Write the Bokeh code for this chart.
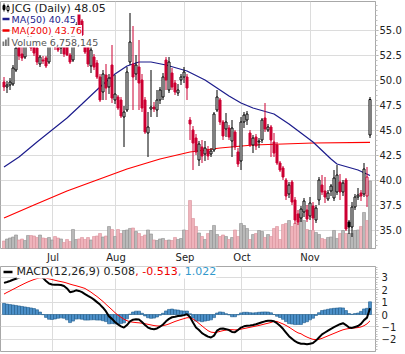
from bokeh.plotting import figure
from bokeh.models import Range1d, FixedTicker, Label, ColumnDataSource, NumeralTickFormatter
from bokeh.layouts import column
from bokeh.embed import file_html
from bokeh.resources import INLINE

# ------------------------------------------------------------------ data
symbol = "JCG"
opens = [49.8, 49.3, 49.5, 49.6, 51.0, 53.4, 52.6, 52.3, 53.6, 54.0,
         53.5, 53.2, 51.6, 52.0, 52.2, 51.8, 54.2, 53.9, 53.5, 53.2,
         53.6, 53.4, 52.5, 52.0, 54.8, 56.6, 55.9, 53.5, 53.3, 51.4,
         52.3, 51.7, 50.3, 48.8, 50.5, 49.3, 51.5, 48.0, 48.3, 48.0,
         46.3, 47.0, 51.8, 51.6, 50.6, 51.3, 50.0, 48.0, 44.7, 47.1,
         47.3, 47.0, 48.0, 48.3, 52.0, 49.0, 50.7, 49.7, 48.7, 50.0,
         50.3, 50.3, 46.0, 45.0, 44.2, 42.0, 43.3, 42.6, 43.0, 42.6,
         43.0, 47.0, 48.0, 45.8, 45.1, 45.2, 43.9, 44.8, 42.8, 41.9,
         45.8, 46.0, 44.7, 43.5, 44.3, 43.8, 44.0, 46.2, 45.0, 45.3,
         43.8, 43.5, 41.7, 41.2, 40.0, 38.6, 39.8, 38.0, 36.6, 36.2,
         36.8, 37.0, 36.4, 37.4, 36.0, 38.0, 39.5, 38.9, 38.1, 38.9,
         38.2, 38.8, 39.8, 38.8, 40.0, 35.8, 35.3, 37.3, 38.3, 38.7,
         38.6, 38.4, 44.5]
highs = [50.3, 49.9, 50.2, 51.5, 53.6, 53.9, 53.4, 54.1, 55.8, 54.4,
         53.7, 53.4, 52.5, 52.4, 52.4, 53.9, 54.4, 54.3, 53.9, 53.6,
         53.8, 53.6, 52.7, 55.0, 55.8, 56.8, 56.1, 53.7, 53.5, 53.8,
         52.6, 52.0, 50.6, 51.0, 51.6, 50.6, 53.5, 50.5, 48.5, 48.3,
         47.4, 51.3, 56.7, 55.4, 52.5, 54.0, 50.6, 48.3, 46.8, 51.0,
         47.8, 49.0, 49.3, 50.7, 52.3, 52.3, 51.2, 50.0, 49.6, 50.6,
         51.3, 50.6, 46.3, 45.4, 44.6, 43.9, 44.0, 43.9, 43.4, 43.2,
         46.8, 49.0, 48.2, 46.0, 46.7, 45.5, 46.0, 45.0, 43.2, 46.3,
         46.8, 46.9, 45.0, 44.5, 44.6, 44.2, 46.2, 47.7, 45.6, 45.5,
         44.7, 43.8, 41.9, 41.4, 40.2, 39.8, 40.0, 38.3, 37.0, 37.4,
         38.2, 37.5, 38.3, 37.8, 37.5, 40.3, 40.5, 40.3, 39.0, 39.6,
         41.0, 41.5, 40.6, 40.0, 40.2, 36.0, 37.8, 38.6, 39.2, 39.0,
         41.7, 41.3, 48.3]
lows = [48.9, 48.7, 49.0, 49.4, 50.8, 52.0, 51.9, 52.1, 53.4, 52.9,
        52.4, 51.5, 51.3, 51.6, 51.2, 51.6, 53.4, 53.0, 52.8, 52.6,
        52.3, 52.4, 51.6, 51.8, 54.5, 55.0, 54.4, 52.6, 51.3, 50.7,
        51.0, 50.1, 47.8, 48.0, 48.0, 48.6, 47.7, 47.6, 47.0, 46.2,
        43.3, 46.8, 51.5, 47.0, 50.0, 47.0, 46.8, 44.6, 42.3, 46.3,
        46.8, 46.3, 47.6, 48.0, 49.0, 48.7, 49.0, 48.5, 48.4, 49.5,
        49.7, 48.0, 44.0, 41.0, 42.5, 41.4, 41.7, 41.9, 42.0, 42.3,
        42.8, 46.8, 45.5, 44.0, 44.3, 44.0, 42.3, 43.0, 41.3, 41.0,
        45.2, 45.5, 43.3, 42.7, 43.0, 43.2, 43.7, 44.8, 44.8, 42.3,
        42.3, 41.5, 40.8, 40.0, 38.0, 38.2, 37.5, 35.6, 35.5, 35.8,
        36.3, 35.8, 36.0, 35.0, 35.7, 37.5, 38.5, 37.7, 37.9, 38.4,
        37.9, 38.5, 38.0, 38.4, 34.9, 34.6, 34.3, 37.0, 38.0, 37.9,
        38.3, 37.3, 44.2]
closes = [49.3, 49.5, 49.8, 51.2, 53.2, 52.4, 52.2, 53.8, 54.0, 53.2,
          52.7, 51.8, 52.3, 51.9, 51.4, 53.6, 53.7, 53.3, 53.0, 53.4,
          52.6, 52.5, 51.8, 54.7, 55.5, 55.3, 54.5, 52.8, 51.6, 53.0,
          51.3, 50.3, 48.0, 50.6, 49.2, 50.2, 48.2, 48.6, 47.2, 46.4,
          46.8, 50.8, 53.8, 50.3, 51.5, 49.7, 47.2, 44.8, 45.3, 47.3,
          47.1, 48.0, 49.0, 50.3, 50.0, 51.8, 49.3, 48.8, 49.0, 50.3,
          50.8, 49.2, 45.6, 43.7, 42.8, 43.6, 42.4, 43.2, 42.4, 42.9,
          46.6, 48.3, 45.8, 44.4, 45.8, 44.3, 45.2, 43.3, 41.6, 45.8,
          46.5, 46.6, 43.5, 44.2, 43.4, 43.9, 46.0, 45.1, 45.3, 44.0,
          42.7, 41.7, 41.0, 40.3, 38.4, 39.5, 37.8, 36.0, 35.8, 37.1,
          37.9, 36.1, 37.7, 36.2, 37.2, 40.0, 38.8, 38.3, 38.7, 39.4,
          40.2, 40.5, 38.8, 39.7, 35.1, 35.3, 37.3, 38.3, 38.5, 38.4,
          41.1, 40.3, 48.05]
volumes = [752000, 948000, 1051000, 1148000, 1352000, 853000, 947000, 802000, 1303000, 1296000,
           1251000, 1104000, 1348000, 1052000, 998000, 1103000, 851000, 1198000, 1047000, 952000,
           604000, 903000, 702000, 1902000, 897000, 951000, 1102000, 903000, 1098000, 852000,
           1203000, 1248000, 1502000, 1153000, 1247000, 2198000, 1903000, 1201000, 1897000, 1502000,
           1801000, 1853000, 2004000, 2051000, 1698000, 1503000, 1202000, 1348000, 1852000, 1451000,
           852000, 798000, 953000, 1002000, 803000, 851000, 797000, 1102000, 903000, 1001000,
           1852000, 1798000, 4803000, 3002000, 2198000, 1553000, 1201000, 902000, 1502000, 1798000,
           2303000, 1402000, 1198000, 1352000, 1203000, 902000, 1098000, 1851000, 1202000, 2503000,
           2298000, 2003000, 901000, 1402000, 1503000, 1798000, 1702000, 1103000, 1398000, 1202000,
           2002000, 2198000, 903000, 2402000, 2503000, 2798000, 2203000, 2502000, 2603000, 3502000,
           2798000, 1903000, 1802000, 1798000, 1603000, 1402000, 1002000, 903000, 1102000, 1152000,
           1803000, 1002000, 1502000, 1798000, 1503000, 1502000, 1498000, 1802000, 1853000, 2203000,
           3602000, 2798000, 6758145]
ma50_idx = [0, 5, 11, 16, 21, 26, 32, 37, 41, 45, 49, 54, 61, 67, 71, 75, 79, 83, 90, 95, 99,
            103, 109, 111, 118, 122]
ma50_val = [41.3, 42.3, 43.8, 45.0, 46.2, 47.6, 49.3, 50.6, 51.4, 51.8, 51.8, 51.5, 50.9, 50.0,
            49.2, 48.4, 47.7, 47.2, 46.6, 45.6, 44.7, 43.8, 42.1, 41.6, 41.0, 40.45]
ma200_idx = [0, 10, 21, 31, 41, 52, 62, 72, 83, 103, 122]
ma200_val = [36.2, 37.5, 38.9, 40.0, 41.1, 42.1, 42.8, 43.2, 43.5, 43.7, 43.76]
macd_line = [2.55, 2.62, 2.70, 2.80, 2.88, 2.97, 3.05, 3.13, 3.20, 3.26,
             3.30, 3.28, 3.15, 2.95, 2.70, 2.50, 2.42, 2.40, 2.40, 2.38,
             2.30, 2.10, 1.80, 1.85, 1.95, 1.90, 1.80, 1.65, 1.50, 1.37,
             1.20, 1.00, 0.80, 0.55, 0.25, -0.15, -0.35, -0.60, -0.80, -0.95,
             -1.05, -0.85, -0.55, -0.42, -0.38, -0.40, -0.60, -0.85, -1.05, -1.15,
             -1.18, -1.12, -0.98, -0.80, -0.55, -0.35, -0.22, -0.18, -0.12, -0.10,
             -0.05, 0.02, -0.20, -0.65, -1.05, -1.25, -1.50, -1.65, -1.78, -1.85,
             -1.70, -1.30, -1.15, -1.12, -1.18, -1.25, -1.40, -1.42, -1.25, -1.05,
             -0.95, -0.90, -0.88, -0.85, -0.78, -0.70, -0.62, -0.55, -0.50, -0.50,
             -0.55, -0.70, -0.90, -1.15, -1.45, -1.75, -1.95, -2.15, -2.28, -2.35,
             -2.36, -2.40, -2.35, -2.30, -2.10, -1.85, -1.60, -1.45, -1.30, -1.15,
             -1.02, -0.90, -0.78, -0.70, -0.85, -1.05, -1.08, -1.00, -0.93, -0.75,
             -0.45, -0.25, 0.508]
macd_signal = [1.65, 1.78, 1.90, 2.03, 2.15, 2.28, 2.40, 2.52, 2.63, 2.73,
               2.82, 2.90, 2.95, 2.96, 2.93, 2.88, 2.82, 2.76, 2.70, 2.65,
               2.60, 2.53, 2.45, 2.38, 2.32, 2.25, 2.18, 2.10, 1.95, 1.80,
               1.62, 1.45, 1.25, 1.05, 0.82, 0.60, 0.38, 0.15, -0.05, -0.22,
               -0.38, -0.50, -0.58, -0.62, -0.65, -0.67, -0.70, -0.74, -0.79, -0.84,
               -0.89, -0.92, -0.93, -0.90, -0.84, -0.76, -0.66, -0.56, -0.48, -0.40,
               -0.33, -0.26, -0.26, -0.36, -0.52, -0.72, -0.92, -1.12, -1.30, -1.42,
               -1.45, -1.42, -1.36, -1.30, -1.25, -1.22, -1.22, -1.24, -1.22, -1.18,
               -1.13, -1.08, -1.03, -0.98, -0.93, -0.88, -0.82, -0.76, -0.70, -0.64,
               -0.55, -0.56, -0.66, -0.76, -0.88, -1.02, -1.18, -1.34, -1.48, -1.55,
               -1.70, -1.82, -1.92, -2.00, -2.02, -2.00, -1.92, -1.82, -1.72, -1.62,
               -1.52, -1.42, -1.32, -1.23, -1.17, -1.13, -1.10, -1.08, -1.05, -1.00,
               -0.90, -0.75, -0.513]
macd_legend_values = [0.508, -0.513, 1.022]
month_labels = ["Jul", "Aug", "Sep", "Oct", "Nov"]
month_pos = [16.33, 37.33, 60.33, 79.33, 102.0]
price_ticks = [35.0, 37.5, 40.0, 42.5, 45.0, 47.5, 50.0, 52.5, 55.0]
macd_ticks = [-2, -1, 0, 1, 2, 3]

# ------------------------------------------------------------------ styling
FONT = "DejaVu Sans"
RED = "#cc0033"
GRID = "#dcdcdc"
BORDER = "#a8a8a8"
TXT = "#222222"

n = len(closes)
idx = list(range(n))
colors, fills, vfill, vline = [], [], [], []
for i in range(n):
    prev = closes[i - 1] if i > 0 else opens[i]
    up = closes[i] >= prev
    c = "#000000" if up else RED
    colors.append(c)
    fills.append("#ffffff" if closes[i] > opens[i] else c)
    vfill.append("#b9b9b9" if up else "#efb3bb")
    vline.append("#8f8f8f" if up else "#d9909b")

src = ColumnDataSource(dict(
    x=idx, h=highs, l=lows,
    top=[max(o, c) for o, c in zip(opens, closes)],
    bot=[min(o, c) for o, c in zip(opens, closes)],
    color=colors, fill=fills,
    vol=[v / 1e6 for v in volumes], vfill=vfill, vline=vline))

XS = -7.0 / 6.0
XR = Range1d(XS, XS + 125)
YR = Range1d(33.15, 57.85)


def px2x(px):
    return XS + px / 3.0


def py2y(py):
    return YR.end - (py - 1) / 10.0


p = figure(frame_width=375, frame_height=247, x_range=XR, y_range=YR,
           y_axis_location="right", output_backend="svg", toolbar_location=None,
           min_border_left=0, min_border_right=4, min_border_top=1, min_border_bottom=16,
           outline_line_color=BORDER, background_fill_color="white")
p.extra_y_ranges = {"vol": Range1d(0, 24.7)}

# grids
p.xgrid.ticker = FixedTicker(ticks=month_pos)
p.ygrid.ticker = FixedTicker(ticks=price_ticks)
for g in (p.xgrid, p.ygrid):
    g.grid_line_color = GRID

# x axis (month labels)
p.xaxis.ticker = FixedTicker(ticks=month_pos)
p.xaxis.major_label_overrides = {float(k): v for k, v in zip(month_pos, month_labels)}
p.xaxis.axis_line_color = None
p.xaxis.major_tick_line_color = None
p.xaxis.minor_tick_line_color = None
p.xaxis.major_tick_out = 0
p.xaxis.major_tick_in = 0
p.xaxis.minor_tick_out = 0
p.xaxis.minor_tick_in = 0
p.xaxis.major_label_standoff = 3
p.xaxis.major_label_text_font = FONT
p.xaxis.major_label_text_font_size = "10px"
p.xaxis.major_label_text_color = TXT

# y axis right
p.yaxis.ticker = FixedTicker(ticks=price_ticks,
                             minor_ticks=[33.5 + 0.5 * k for k in range(49)])
p.yaxis.formatter = NumeralTickFormatter(format="0.0")
p.yaxis.axis_line_color = BORDER
p.yaxis.major_tick_line_color = BORDER
p.yaxis.minor_tick_line_color = "#c0c0c0"
p.yaxis.major_tick_out = 3
p.yaxis.major_tick_in = 0
p.yaxis.minor_tick_out = 2
p.yaxis.minor_tick_in = 0
p.yaxis.major_label_standoff = 1
p.yaxis.major_label_text_font = FONT
p.yaxis.major_label_text_font_size = "10px"
p.yaxis.major_label_text_color = TXT

# volume
p.vbar(x="x", top="vol", bottom=0, width=1.0, y_range_name="vol",
       fill_color="vfill", line_color="vline", line_width=0.6, source=src)
# moving averages
p.line(ma200_idx, ma200_val, line_color="#ff0000", line_width=1.2)
p.line(ma50_idx, ma50_val, line_color="#1c1c8c", line_width=1.2)
# candles
p.segment(x0="x", y0="h", x1="x", y1="l", line_color="color", line_width=1, source=src)
p.vbar(x="x", top="top", bottom="bot", width=2.0 / 3.0, fill_color="fill",
       line_color="color", line_width=1, source=src)

# legend (main)
rows = [
    (7.5, f"{symbol} (Daily) {closes[-1]:.2f}", "#222222", "11px"),
    (18.5, f"MA(50) {ma50_val[-1]:.2f}", "#1c1c8c", "9.5px"),
    (30.0, f"MA(200) {ma200_val[-1]:.2f}", "#ee0000", "9.5px"),
    (41.5, f"Volume {volumes[-1]:,}", "#555555", "9.5px"),
]
for py, txt, col, fs in rows:
    p.add_layout(Label(x=px2x(11), y=py2y(py), text=txt, text_color=col,
                       text_font=FONT, text_font_size=fs, text_baseline="middle",
                       background_fill_color="white"))
# legend icons
p.segment(x0=[px2x(2), px2x(2)], y0=[py2y(18.5), py2y(30.0)],
          x1=[px2x(9), px2x(9)], y1=[py2y(18.5), py2y(30.0)],
          line_color=["#1c1c8c", "#ee0000"], line_width=2.5, level="overlay")
p.segment(x0=[px2x(3.5), px2x(7.5)], y0=[py2y(3), py2y(4)],
          x1=[px2x(3.5), px2x(7.5)], y1=[py2y(11), py2y(12)],
          line_color="#000000", line_width=1, level="overlay")
p.quad(left=[px2x(2.5), px2x(6.5)], right=[px2x(4.5), px2x(8.5)],
       top=[py2y(5), py2y(6)], bottom=[py2y(9), py2y(10)],
       fill_color=["#000000", "#ffffff"], line_color="#000000", line_width=1, level="overlay")
p.quad(left=[px2x(2), px2x(4.5), px2x(7)], right=[px2x(3.8), px2x(6.3), px2x(8.8)],
       top=[py2y(41), py2y(39), py2y(37)], bottom=[py2y(45.5)] * 3,
       fill_color="#777777", line_color=None, level="overlay")

# ------------------------------------------------------------------ MACD panel
MR = Range1d(-2.98, 3.87)
q = figure(frame_width=375, frame_height=85, x_range=XR, y_range=MR,
           y_axis_location="right", output_backend="svg", toolbar_location=None,
           min_border_left=0, min_border_right=4, min_border_top=1, min_border_bottom=4,
           outline_line_color=BORDER, background_fill_color="white")
q.xaxis.visible = False
q.xgrid.ticker = FixedTicker(ticks=month_pos)
q.ygrid.ticker = FixedTicker(ticks=macd_ticks)
for g in (q.xgrid, q.ygrid):
    g.grid_line_color = GRID
q.yaxis.ticker = FixedTicker(ticks=macd_ticks,
                             minor_ticks=[-2.8 + 0.2 * k for k in range(34)])
q.yaxis.axis_line_color = BORDER
q.yaxis.major_tick_line_color = BORDER
q.yaxis.minor_tick_line_color = "#c0c0c0"
q.yaxis.major_tick_out = 3
q.yaxis.major_tick_in = 0
q.yaxis.minor_tick_out = 2
q.yaxis.minor_tick_in = 0
q.yaxis.major_label_standoff = 3
q.yaxis.major_label_text_font = FONT
q.yaxis.major_label_text_font_size = "10px"
q.yaxis.major_label_text_color = TXT

hist = [m - s for m, s in zip(macd_line, macd_signal)]
q.vbar(x=idx, top=hist, bottom=0, width=1.0, fill_color="#4b8fc8",
       line_color="#1f5b8c", line_width=0.6)
q.line(idx, macd_signal, line_color="#ff0000", line_width=1)
q.line(idx, macd_line, line_color="#000000", line_width=2)


def qy(py):
    return MR.end - (py - 265) / 12.41


leg = [
    (16, f"MACD(12,26,9) {macd_legend_values[0]:.3f}", "#222222"),
    (134.7, f", {macd_legend_values[1]:.3f}", "#ee0000"),
    (177.2, f", {macd_legend_values[2]:.3f}", "#3399cc"),
]
for px, txt, col in leg:
    q.add_layout(Label(x=px2x(px), y=qy(270.5), text=txt, text_color=col,
                       text_font=FONT, text_font_size="11px", text_baseline="middle",
                       background_fill_color="white"))
q.segment(x0=[px2x(3)], y0=[qy(270.5)], x1=[px2x(12)], y1=[qy(270.5)],
          line_color="#000000", line_width=2.5, level="overlay")

layout = column(p, q, spacing=0)
open("out.html", "w").write(file_html(layout, INLINE))
